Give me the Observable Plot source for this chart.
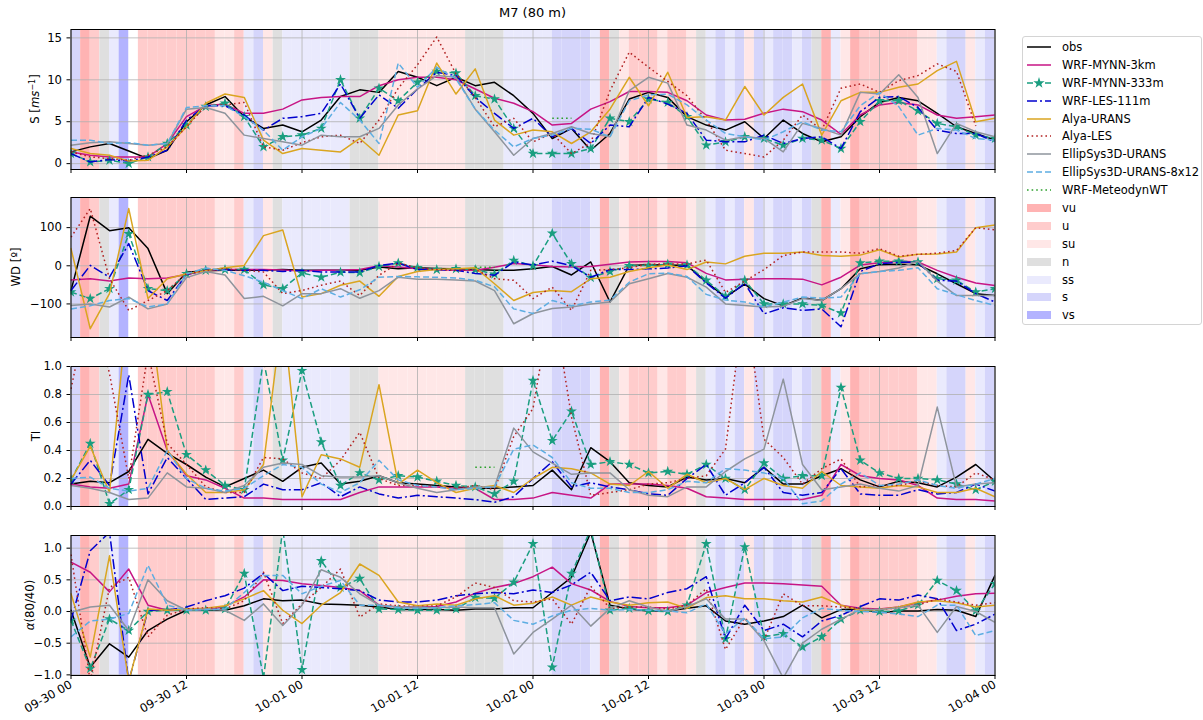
<!DOCTYPE html>
<html><head><meta charset="utf-8">
<script src="https://cdn.jsdelivr.net/npm/d3@7"></script>
<script src="https://cdn.jsdelivr.net/npm/@observablehq/plot@0.6"></script>
<style>
body{margin:0;background:#fff;font-family:"DejaVu Sans",sans-serif;}
#fig{position:relative;width:1203px;height:720px;overflow:hidden;background:#fff;}
.panel{position:absolute;left:0;}
#title{position:absolute;top:5px;left:70px;width:925px;text-align:center;font-size:13px;}
.ylab{position:absolute;transform:translate(-50%,-50%) rotate(-90deg);white-space:nowrap;font-size:11.7px;}
.ylab sup{font-size:8px;}
#legend{position:absolute;left:1022px;top:36px;width:180px;height:289px;border:1px solid #d4d4d4;border-radius:3px;box-sizing:border-box;font-size:11.5px;padding-top:1px;background:#fff;}
.lrow{height:17.9px;display:flex;align-items:center;white-space:nowrap;}
.lrow svg{margin-left:3px;margin-right:10px;flex:none;}
</style></head><body><div id="fig"><div id="title">M7 (80 m)</div></div>
<script>
// ---------- data ----------
const hours = [0,2,4,6,8,10,12,14,16,18,20,22,24,26,28,30,32,34,36,38,40,42,44,46,48,50,52,54,56,58,60,62,64,66,68,70,72,74,76,78,80,82,84,86,88,90,92,94,96];
const tickHours = [0,12,24,36,48,60,72,84,96];
const tickLabels = ["09-30 00","09-30 12","10-01 00","10-01 12","10-02 00","10-02 12","10-03 00","10-03 12","10-04 00"];
const seriesNames = ["obs","WRF-MYNN-3km","WRF-MYNN-333m","WRF-LES-111m","Alya-URANS","Alya-LES","EllipSys3D-URANS","EllipSys3D-URANS-8x12","WRF-MeteodynWT"];
const stabilityClasses = ["vu","u","su","n","ss","s","vs"];
// hourly stability class, 09-30 00 .. 10-03 23
const stability = [
 "s","vu","u","n","ss","vs",null,"u","u","u","u","u",
 "u","u","u","su","su","u","ss","s","su","n","ss","ss",
 "ss","ss","ss","ss","ss","n","n","n","su","su","su","su",
 "su","su","su","su","su","n","n","n","n","ss","ss","ss",
 "ss","ss","s","s","s","s","ss","vu","n","su","u","u",
 "u","su","u","u","su","n","ss","s","ss","s","su","s",
 "ss","s","s","ss","s","n","vu","ss","su","vu","u","u",
 "u","u","u","u","su","su","ss","s","s","su","ss","s"];

// wind speed S [m/s]
const S_obs = [1.4,2.0,2.4,1.5,0.6,1.6,5.0,7.0,8.0,5.6,4.2,4.6,3.8, 5.2,8.0,8.8,8.5,11.0,10.3,9.3,10.3,9.3,9.7,8.1,6.0, 3.0,4.2,1.6,3.6,7.7,8.5,7.9,5.6,4.6,4.0,5.0,3.0, 5.2,3.6,2.6,3.2,5.6,7.3,7.9,7.5,6.0,4.4,3.6,2.8];
const S_mynn3 = [1.4,1.0,0.8,0.8,0.8,2.4,5.6,6.9,7.1,6.0,6.0,6.5,7.6, 7.9,8.0,8.0,9.3,10.0,10.3,10.3,10.0,8.9,7.8,7.2,6.2, 4.6,4.8,6.5,7.4,8.6,8.6,8.5,7.5,5.8,5.2,5.3,6.0, 6.5,6.2,5.2,3.5,5.8,7.0,7.3,7.0,5.8,5.4,5.6,5.8];
const S_mynn333 = [1.2,0.2,0.4,0.0,0.8,2.4,4.6,6.8,7.2,5.6,2.0,3.2,3.4, 4.2,10.0,5.4,9.0,7.5,9.7,11.0,10.8,8.1,7.7,4.2,1.2, 1.2,1.2,1.8,5.4,5.0,7.7,7.3,5.6,2.2,2.6,3.2,3.0, 2.2,3.0,2.8,1.8,5.0,7.5,7.5,6.3,4.8,4.4,3.4,3.0];
const S_les = [1.2,0.2,0.5,0.3,0.8,1.6,5.2,6.9,6.9,5.8,4.0,5.4,5.6, 6.0,9.5,5.4,8.2,6.6,8.9,10.9,10.5,7.9,6.0,4.2,5.4, 3.2,4.2,2.4,4.6,4.4,7.9,7.1,6.0,2.8,2.6,2.6,3.4, 2.4,3.0,3.2,1.8,6.2,7.9,8.0,6.7,4.0,3.6,3.6,2.6];
const S_alyaU = [1.8,1.2,1.0,0.3,0.4,2.0,4.4,7.2,8.3,7.9,2.8,1.2,1.8, 1.6,1.4,3.0,1.0,5.8,6.3,12.0,8.3,11.3,5.2,3.4,4.0, 3.8,2.4,3.8,6.5,10.3,6.9,10.9,5.5,5.6,5.2,9.2,5.8, 7.9,9.5,3.4,7.5,8.5,8.5,9.1,9.5,11.1,12.2,5.0,5.4];
const S_alyaL = [1.4,0.8,0.6,0.4,1.0,2.0,4.4,6.9,7.0,7.3,2.0,1.6,2.5, 3.2,3.4,2.4,5.2,9.0,11.8,15.1,10.7,7.9,4.4,5.4,2.6, 3.6,1.2,2.5,8.7,13.3,11.5,9.8,8.1,5.2,1.6,1.2,0.8, 2.8,5.8,4.0,9.0,9.5,8.5,9.9,10.5,11.9,11.0,4.5,null];
const S_ellU = [2.2,2.5,2.6,2.4,2.2,2.4,6.5,6.7,6.0,3.4,3.0,2.6,2.2, 3.4,3.2,3.2,4.2,7.0,8.9,10.5,10.3,6.5,3.8,1.0,3.0, 3.6,4.4,3.6,3.2,8.7,10.3,9.6,4.6,4.0,2.8,3.2,3.0, 1.4,4.8,4.2,3.4,8.5,8.3,10.6,7.9,1.2,4.8,3.8,3.2];
const S_ell812 = [2.8,2.8,2.4,2.5,2.2,2.4,6.7,6.9,6.9,5.6,4.0,1.6,3.2, 4.2,7.3,5.2,2.4,12.0,9.1,11.5,10.1,6.5,4.0,2.0,3.0, 3.4,4.2,4.1,3.2,7.5,8.2,8.3,7.0,5.2,3.6,3.2,2.8, 3.8,5.0,4.0,3.8,6.9,8.5,6.8,3.4,4.2,4.0,3.0,2.8];
const S_meteo = [null,null,null,null,null,null,null,null,null,null,null,null,null, null,null,null,null,null,null,null,null,null,null,null,null, 5.4,5.4,null,null,null,null,null,null,null,null,null,null, null,null,null,null,null,null,null,null,null,null,null,null];

// wind direction WD [deg]
const WD_obs = [-65,130,92,100,45,-73,-17,-13,-12,-12,-12,-10,-12, -12,-12,-12,-3,-8,-5,-7,-8,-10,-12,-12,-8, -2,-24,10,-95,1,3,2,1,-43,-82,-48,-86, -105,-84,-91,-60,-8,3,4,3,-21,-47,-73,-78];
const WD_mynn3 = [-37,-34,-40,-32,-34,-32,-23,-12,-10,-10,-10,-11,-14, -12,-12,-10,0,-3,-8,-10,-12,-12,-4,6,3, -2,-3,-2,4,10,11,11,8,-20,-37,-35,-34, -34,-35,-50,-30,2,8,12,10,-12,-30,-45,-52];
const WD_mynn333 = [-69,-86,-60,84,-60,-65,-21,-12,-10,-10,-50,-60,-19, -30,-17,-18,-2,7,-5,-10,-8,-10,-22,14,0, 85,5,-31,-15,0,1,4,2,-38,-80,-38,-100, -100,-100,-104,-124,7,12,12,10,-34,-38,-69,-60];
const WD_les = [-65,1,-30,58,-65,-91,-23,-12,-10,-12,-12,-15,-12, -16,-16,-16,1,7,-10,-10,-12,-20,-25,10,2, 12,0,-30,-10,-10,-8,-6,0,-45,-85,-46,-126, -110,-117,-113,-160,-15,5,9,9,-38,-40,-73,-95];
const WD_alyaU = [45,-165,-73,150,-86,-34,-21,-13,-5,1,79,94,-82, -73,-51,-40,-80,-28,-15,-10,-8,-5,-47,-91,-70, -65,-68,-34,-30,-15,-5,2,-10,10,5,25,33, 33,36,27,25,28,42,23,30,31,36,100,107];
const WD_alyaL = [75,150,-34,-117,-91,-65,-21,-12,-8,-12,-16,-73,-65, -51,-40,-78,-25,7,-5,-10,-12,-10,-34,-38,-86, -56,-117,-12,-10,-5,4,5,5,15,-70,-40,-10, 27,36,36,36,33,45,25,30,33,40,100,94];
const WD_ellU = [-104,-100,-108,-82,-113,-100,-31,-15,-24,-86,-80,-105,-73, -73,-60,-85,-65,-30,-35,-35,-37,-40,-65,-152,-125, -112,-108,-100,-95,-47,-34,-20,-30,-56,-100,-104,-108, -106,-86,-91,-60,-21,-15,-6,12,-40,-78,-78,-78];
const WD_ell812 = [-113,-105,-91,-86,-108,-100,-21,-6,-12,-26,-43,-65,-86, -60,-82,-63,-30,-28,-29,-30,-32,-38,-55,-113,-125, -91,-105,-95,-90,-43,-21,-19,-28,-75,-90,-95,-108, -95,-82,-85,-82,-21,-15,-12,-5,-60,-76,-91,-104];
const WD_meteo = [null,null,null,null,null,null,null,null,null,null,null,null,null, null,null,null,null,null,null,null,null,-4,-4,null,null, null,null,null,null,null,null,null,null,null,null,null,null, null,null,null,null,null,null,null,null,null,null,null,null];

// turbulence intensity TI
const TI_obs = [0.16,0.18,0.17,0.25,0.48,0.38,0.30,0.21,0.14,0.20,0.26,0.18,0.28, 0.31,0.16,0.18,0.22,0.17,0.16,0.15,0.14,0.13,0.13,0.14,0.15, 0.26,0.12,0.42,0.32,0.17,0.15,0.14,0.21,0.19,0.20,0.17,0.28, 0.16,0.16,0.22,0.27,0.19,0.14,0.18,0.17,0.14,0.21,0.30,0.18];
const TI_mynn3 = [0.16,0.14,0.13,0.16,0.80,0.40,0.22,0.19,0.13,0.06,0.06,0.05,0.05, 0.05,0.05,0.10,0.14,0.14,0.14,0.14,0.13,0.13,0.05,0.05,0.06, 0.10,0.08,0.06,0.16,0.16,0.16,0.15,0.13,0.07,0.06,0.05,0.05, 0.05,0.05,0.08,0.30,0.22,0.20,0.19,0.15,0.06,0.05,0.05,0.04];
const TI_mynn333 = [0.19,0.45,0.02,0.12,0.80,0.82,0.37,0.26,0.15,0.12,1.05,0.33,0.97, 0.46,0.15,0.24,0.19,0.22,0.21,0.18,0.15,0.14,0.09,0.18,0.90, 0.47,0.68,0.30,0.32,0.30,0.24,0.25,0.23,0.30,0.20,0.12,0.31, 0.20,0.22,0.22,0.85,0.33,0.24,0.20,0.20,0.19,0.16,0.12,0.18];
const TI_les = [0.16,0.33,0.15,0.94,0.09,0.35,0.20,0.05,0.06,0.07,0.16,0.12,0.12, 0.17,0.07,0.14,0.09,0.06,0.08,0.07,0.06,0.05,0.03,0.07,0.20, 0.32,0.14,0.17,0.14,0.12,0.09,0.08,0.20,0.30,0.08,0.17,0.28, 0.10,0.08,0.10,0.27,0.09,0.08,0.08,0.12,0.09,0.10,0.16,0.11];
const TI_alyaU = [0.19,0.43,0.10,1.5,1.5,0.40,0.23,0.10,0.10,0.12,0.30,1.4,0.07, 0.37,0.34,0.28,0.87,0.16,0.26,0.17,0.10,0.13,0.15,0.10,0.20, 0.28,0.27,0.24,0.16,0.15,0.25,0.13,0.23,0.17,0.20,0.12,0.20, 0.15,0.13,0.25,0.15,0.14,0.13,0.15,0.14,0.10,0.10,0.13,0.07];
const TI_alyaL = [0.84,1.5,0.95,0.20,1.1,0.45,0.30,0.14,0.10,0.10,0.35,0.34,0.24, 0.20,0.33,0.53,0.20,0.15,0.15,0.14,0.13,0.15,0.12,0.50,0.70, 1.5,0.64,0.08,0.10,0.12,0.16,0.17,0.20,0.22,0.41,1.5,0.48, 0.35,0.16,0.27,0.34,0.14,0.15,0.15,0.18,0.15,0.14,0.24,0.19];
const TI_ellU = [0.15,0.13,0.10,0.05,0.06,0.24,0.14,0.13,0.10,0.15,0.28,0.31,0.30, 0.22,0.21,0.21,0.22,0.17,0.13,0.10,0.12,0.14,0.14,0.56,0.39, 0.31,0.23,0.24,0.24,0.12,0.08,0.07,0.14,0.14,0.25,0.34,0.41, 0.91,0.30,0.12,0.14,0.16,0.13,0.11,0.15,0.71,0.14,0.16,0.17];
const TI_ell812 = [0.20,0.21,0.13,0.11,0.13,0.40,0.20,0.13,0.11,0.13,0.22,0.30,0.28, 0.16,0.10,0.17,0.33,0.19,0.15,0.14,0.12,0.13,0.14,0.41,0.44, 0.35,0.17,0.13,0.13,0.10,0.10,0.12,0.18,0.17,0.27,0.26,0.24, 0.20,0.02,0.04,0.16,0.24,0.15,0.16,0.19,0.15,0.13,0.16,0.20];
const TI_meteo = [null,null,null,null,null,null,null,null,null,null,null,null,null, null,null,null,null,null,null,null,null,0.28,0.28,null,null, null,null,null,null,null,null,null,null,null,null,null,null, null,null,null,null,null,null,null,null,null,null,null,null];

// shear exponent alpha(80/40)
const A_obs = [0.02,-0.88,-0.51,-0.72,-0.30,-0.12,0.02,0.02,0.02,0.09,0.20,0.17,0.18, 0.12,0.11,0.10,0.07,0.03,0.03,0.03,0.02,0.04,0.04,0.06,0.06, 0.30,0.54,1.25,0.10,0.04,0.01,0.01,0.05,0.09,-0.15,-0.20,-0.15, -0.08,0.10,-0.10,0.03,0.04,-0.02,0.01,0.01,0.03,0.02,-0.08,0.57];
const A_mynn3 = [0.78,0.62,0.31,0.67,0.10,0.02,0.03,0.02,0.08,0.23,0.50,0.49,0.44, 0.41,0.38,0.33,0.10,0.07,0.07,0.08,0.15,0.29,0.38,0.44,0.55, 0.70,0.44,0.34,0.16,0.08,0.06,0.06,0.10,0.30,0.38,0.45,0.45, 0.44,0.42,0.40,0.10,0.05,0.04,0.07,0.14,0.18,0.24,0.28,0.29];
const A_mynn333 = [-0.14,-0.90,-0.12,-0.30,0.00,0.02,0.02,0.02,0.04,0.60,-1.05,1.3,-0.92, 0.80,0.38,0.52,0.04,0.03,0.02,0.02,0.04,0.22,0.21,0.46,1.07, -0.88,0.60,1.3,0.02,0.05,0.01,0.00,0.10,1.07,-0.43,1.02,-0.40, -0.35,-0.56,-0.40,-0.12,0.02,0.00,0.01,0.10,0.49,0.33,0.01,0.44];
const A_les = [-0.14,0.96,1.25,-1.1,0.02,0.02,0.07,0.17,0.25,0.37,0.60,0.33,0.40, 0.38,0.36,0.33,0.18,0.15,0.15,0.18,0.25,0.28,0.30,0.28,0.34, 0.30,0.42,0.62,0.17,0.23,0.20,0.30,0.36,0.55,-0.43,0.10,-0.30, -0.20,-0.40,-0.15,-0.06,0.08,0.20,0.18,0.26,0.20,-0.30,-0.20,-0.04];
const A_alyaU = [0.28,-0.72,0.88,-1.1,0.04,0.02,0.04,0.05,0.09,0.20,0.33,0.02,-0.19, 0.10,0.30,0.75,0.57,0.15,0.09,0.12,0.10,0.20,0.25,0.10,0.13, 0.23,0.10,0.23,0.15,0.10,0.14,0.15,0.05,0.22,0.25,0.20,0.20, 0.17,0.15,0.23,0.10,0.02,0.03,0.07,0.15,0.17,0.14,0.07,0.10];
const A_alyaL = [0.9,-1.1,0.38,0.54,-0.40,-0.06,0.04,0.06,0.04,0.17,0.62,-0.19,0.12, 0.38,0.67,-0.09,0.12,0.09,0.08,0.09,0.23,0.45,0.38,0.17,0.15, 0.20,-0.20,0.40,0.05,0.07,0.07,0.04,0.10,0.36,-0.60,-0.10,-0.45, 0.28,0.09,0.09,0.07,0.05,0.03,0.06,0.10,0.20,0.15,0.10,0.14];
const A_ellU = [-0.01,0.07,0.10,-0.30,0.50,0.17,0.02,0.04,0.02,-0.14,0.12,-0.22,0.10, 0.66,0.54,0.28,0.10,0.07,0.07,0.06,0.07,0.06,0.06,-0.67,-0.33, -0.12,0.10,-0.23,0.05,0.17,0.07,0.00,0.08,0.20,-0.12,-0.12,-0.46, -1.05,-0.50,-0.28,-0.12,0.03,0.03,0.06,0.10,-0.33,0.08,0.00,-0.17];
const A_ell812 = [-0.40,-0.15,-0.12,-0.03,0.73,0.10,0.02,0.03,0.04,0.30,0.57,0.57,0.28, 0.40,0.49,0.10,0.10,0.06,0.05,0.06,0.09,0.11,0.14,-0.14,-0.20, -0.07,0.02,0.05,0.02,0.03,0.02,0.01,-0.02,0.12,-0.35,-0.10,-0.43, -0.40,-0.10,0.05,0.02,0.00,-0.01,-0.04,-0.08,0.10,0.10,-0.38,-0.30];
const A_meteo = [null,null,null,null,null,null,null,null,null,null,null,null,null, null,null,null,null,null,null,null,null,null,null,null,null, null,null,null,null,null,null,null,null,null,null,null,null, null,null,null,null,null,null,null,null,null,null,null,null];

// ---------- styles ----------
const stabilityColors = ["#ffb3b3","#ffcccc","#ffe7e7","#dfdfdf","#eaeafd","#d5d5fb","#b3b3ff"];
const seriesStyle = [
  {stroke:"#000000"},
  {stroke:"#c71585"},
  {stroke:"#1a9e80", dash:"6,3", star:true},
  {stroke:"#0000cd", dash:"10,3,2,3"},
  {stroke:"#daa520"},
  {stroke:"#b22222", dash:"1.6,3"},
  {stroke:"#8e949c"},
  {stroke:"#5dade2", dash:"6,3"},
  {stroke:"#2ca02c", dash:"1.6,3"}
];
const fmtInt = d3.format("d"), fmt1 = d3.format(".1f");
const panels = [
  {values:[S_obs,S_mynn3,S_mynn333,S_les,S_alyaU,S_alyaL,S_ellU,S_ell812,S_meteo], domain:[-0.7,16], ticks:[0,5,10,15], fmt:fmtInt, label:'S [<i>ms</i><sup>−1</sup>]', top:15, labX:35},
  {values:[WD_obs,WD_mynn3,WD_mynn333,WD_les,WD_alyaU,WD_alyaL,WD_ellU,WD_ell812,WD_meteo], domain:[-188,179], ticks:[-100,0,100], fmt:fmtInt, label:'WD [º]', top:183, labX:16},
  {values:[TI_obs,TI_mynn3,TI_mynn333,TI_les,TI_alyaU,TI_alyaL,TI_ellU,TI_ell812,TI_meteo], domain:[0,1], ticks:[0,0.2,0.4,0.6,0.8,1.0], fmt:fmt1, label:'TI', top:352, labX:36},
  {values:[A_obs,A_mynn3,A_mynn333,A_les,A_alyaU,A_alyaL,A_ellU,A_ell812,A_meteo], domain:[-1.01,1.2], ticks:[-1,-0.5,0,0.5,1], fmt:fmt1, label:'<i>α</i>(80/40)', top:521, labX:30}
];

const fig = document.getElementById("fig");
const bandData = stability.map((cls, i) => ({x1: i, x2: i + 1, cls})).filter(d => d.cls);

panels.forEach((p, pi) => {
  const isBottom = pi === panels.length - 1;
  const marks = [
    Plot.rect(bandData, {x1: "x1", x2: "x2", fill: "cls"}),
    Plot.ruleX(tickHours, {stroke: "#b0b0b0", strokeWidth: 0.8}),
    Plot.ruleY(p.ticks, {stroke: "#b0b0b0", strokeWidth: 0.8})
  ];
  p.values.forEach((vals, k) => {
    const st = seriesStyle[k];
    const data = hours.map((h, i) => ({h, v: vals[i]}));
    marks.push(Plot.line(data, {x: "h", y: "v", stroke: st.stroke, strokeWidth: 1.5,
      strokeDasharray: st.dash, strokeLinecap: st.dash ? "butt" : "round", clip: true}));
    if (st.star) marks.push(Plot.dot(data.filter(d => d.v != null), {x: "h", y: "v", symbol: "star",
      fill: st.stroke, stroke: "none", r: 3.4, clip: true}));
  });
  marks.push(Plot.frame({stroke: "black", strokeWidth: 1}));
  const svg = Plot.plot({
    width: 1000, height: isBottom ? 199 : 168,
    marginLeft: 70.5, marginRight: 5.5, marginTop: 14, marginBottom: isBottom ? 45 : 14,
    style: {background: "transparent", fontFamily: "'DejaVu Sans', sans-serif", fontSize: "11.7px", color: "black", overflow: "visible"},
    x: {domain: [0, 96], ticks: tickHours, tickSize: 4, tickPadding: 4, label: null,
        tickFormat: isBottom ? (d => tickLabels[tickHours.indexOf(d)]) : (() => ""),
        tickRotate: isBottom ? -30 : 0},
    y: {domain: p.domain, ticks: p.ticks, tickFormat: p.fmt, tickSize: 4, label: null},
    color: {domain: stabilityClasses, range: stabilityColors},
    marks
  });
  svg.classList.add("panel");
  svg.style.position = "absolute";
  svg.style.top = p.top + "px";
  svg.style.left = "0px";
  fig.appendChild(svg);
  const lab = document.createElement("div");
  lab.className = "ylab";
  lab.innerHTML = p.label;
  lab.style.left = p.labX + "px";
  lab.style.top = (p.top + 14 + 70) + "px";
  fig.appendChild(lab);
});

// ---------- legend ----------
const legend = document.createElement("div");
legend.id = "legend";
seriesNames.forEach((name, k) => {
  const st = seriesStyle[k];
  const row = document.createElement("div");
  row.className = "lrow";
  let sw = `<svg width="26" height="12"><line x1="1" x2="25" y1="6" y2="6" stroke="${st.stroke}" stroke-width="1.5"${st.dash ? ` stroke-dasharray="${st.dash}"` : ""}/>`;
  if (st.star) sw += `<path transform="translate(13,6)" d="${d3.symbol(d3.symbolStar, 40)()}" fill="${st.stroke}"/>`;
  sw += `</svg>`;
  row.innerHTML = sw + `<span>${name}</span>`;
  legend.appendChild(row);
});
stabilityClasses.forEach((cls, k) => {
  const row = document.createElement("div");
  row.className = "lrow";
  row.innerHTML = `<svg width="26" height="12"><rect x="1" y="2" width="24" height="8" fill="${stabilityColors[k]}"/></svg><span>${cls}</span>`;
  legend.appendChild(row);
});
fig.appendChild(legend);
</script></body></html>
